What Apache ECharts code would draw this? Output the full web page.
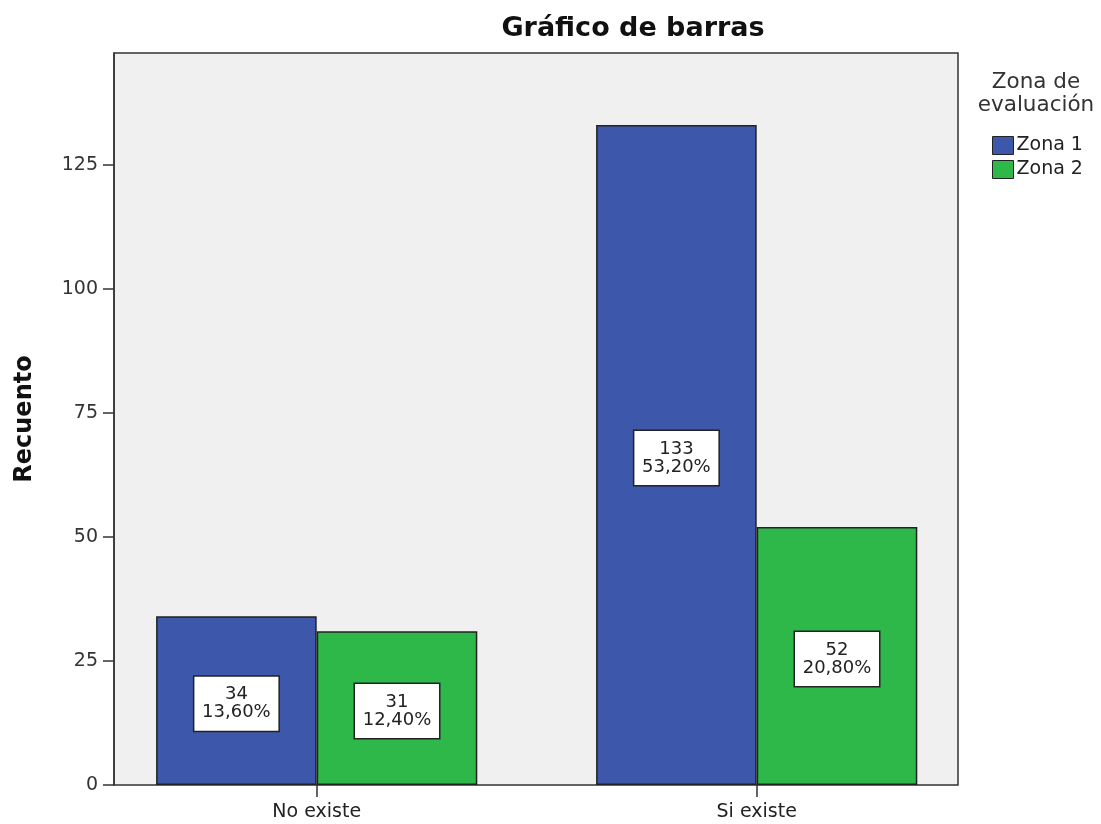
<!DOCTYPE html>
<html><head><meta charset="utf-8">
<script src="https://cdn.jsdelivr.net/npm/echarts@6/dist/echarts.min.js"></script>
<style>html,body{margin:0;padding:0;background:#fff}#c{width:1101px;height:824px}</style>
</head><body><div id="c"></div>
<script>
const categories = ['No existe', 'Si existe'];
const seriesNames = ['Zona 1', 'Zona 2'];
const zona1 = [34, 133];
const zona2 = [31, 52];
const yTicks = [0, 25, 50, 75, 100, 125];
const total = zona1.concat(zona2).reduce((a, b) => a + b, 0);

const FONT = '"DejaVu Sans", Verdana, sans-serif';
const pct = v => (v / total * 100).toFixed(2).replace('.', ',') + '%';

const labelCfg = {
  show: true,
  position: 'inside',
  formatter: p => p.value + '\n' + pct(p.value),
  backgroundColor: '#ffffff',
  borderColor: '#222',
  borderWidth: 1.5,
  padding: [9, 5, 9, 5],
  color: '#222',
  fontFamily: FONT,
  fontSize: 18,
  lineHeight: 18,
  width: 74,
  align: 'center',
  offset: [0, 3]
};

const chart = echarts.init(document.getElementById('c'), null, {renderer: 'canvas'});
chart.setOption({
  animation: false,
  backgroundColor: '#ffffff',
  title: {
    text: 'Gráfico de barras',
    left: 628, top: 10, textAlign: 'center',
    textStyle: {fontFamily: FONT, fontSize: 27, fontWeight: 'bold', color: '#111'}
  },
  legend: {
    data: seriesNames,
    orient: 'vertical',
    left: 987, top: 131,
    itemWidth: 21, itemHeight: 18, itemGap: 5,
    icon: 'rect',
    itemStyle: {borderColor: '#222', borderWidth: 1},
    textStyle: {fontFamily: FONT, fontSize: 19, color: '#222', padding: [0, 0, 0, -2]}
  },
  graphic: [{
    type: 'text', x: 1036, y: 71,
    style: {text: 'Zona de\nevaluación', font: '21.5px ' + FONT, fill: '#333',
            align: 'center', verticalAlign: 'top', lineHeight: 23}
  }],
  grid: [
    {left: 114, right: 1101 - 958, top: 53, bottom: 824 - 785, show: true,
     backgroundColor: '#f0f0f0', borderColor: '#333', borderWidth: 1.5, z: 0},
    {left: 96.7, right: 1101 - 976.7, top: 53, bottom: 824 - 785}
  ],
  xAxis: [
    {gridIndex: 0, type: 'category', data: categories, show: false},
    {gridIndex: 1, type: 'category', data: categories,
     axisLine: {show: false},
     axisTick: {show: true, alignWithLabel: true, length: 12, lineStyle: {color: '#333', width: 1.5}},
     axisLabel: {fontFamily: FONT, fontSize: 19, color: '#222', margin: 18}}
  ],
  yAxis: [
    {gridIndex: 0, type: 'value', min: 0, max: 147.5,
     name: 'Recuento', nameLocation: 'middle', nameGap: 77, nameRotate: 90,
     nameTextStyle: {fontFamily: FONT, fontSize: 24, fontWeight: 'bold', color: '#111'},
     axisLine: {show: true, lineStyle: {color: '#333', width: 1.5}},
     axisTick: {show: true, length: 11, customValues: yTicks, lineStyle: {color: '#333', width: 1.5}},
     axisLabel: {customValues: yTicks, fontFamily: FONT, fontSize: 19, color: '#333', margin: 16},
     splitLine: {show: false}},
    {gridIndex: 1, type: 'value', min: 0, max: 147.5, show: false, splitLine: {show: false}}
  ],
  series: [
    {name: seriesNames[0], type: 'bar', xAxisIndex: 1, yAxisIndex: 1, data: zona1,
     barGap: '0%', barCategoryGap: '27%',
     itemStyle: {color: '#3d57aa', borderColor: '#222', borderWidth: 1.5},
     label: labelCfg},
    {name: seriesNames[1], type: 'bar', xAxisIndex: 1, yAxisIndex: 1, data: zona2,
     barGap: '0%', barCategoryGap: '27%',
     itemStyle: {color: '#2eb84a', borderColor: '#222', borderWidth: 1.5},
     label: labelCfg}
  ]
});
</script>
</body></html>
